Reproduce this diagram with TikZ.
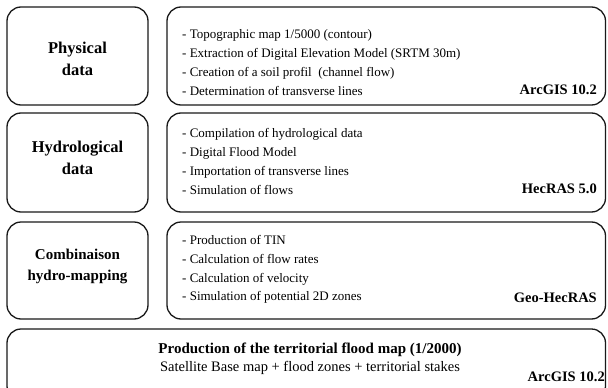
\documentclass[tikz,border=0pt]{standalone}
\usepackage{fontspec}
\setmainfont{Liberation Serif}
\begin{document}
\begin{tikzpicture}[x=1pt,y=-1pt,
  box/.style={draw=black!90,line width=1.3pt,rounded corners=14pt},
  lbl/.style={font=\fontsize{16.5}{22}\selectfont\bfseries,align=center,inner sep=0pt},
  items/.style={font=\fontsize{13}{18.8}\selectfont,align=left,inner sep=0pt,anchor=west},
  tool/.style={font=\fontsize{14.5}{16}\selectfont\bfseries,inner sep=0pt,anchor=east}]
\useasboundingbox (0,0) rectangle (608,388);
\begin{scope}
\clip (0,0) rectangle (608,388);
\draw[box] (7,7) rectangle (148,105);
\draw[box] (167,7) rectangle (605.5,105);
\draw[box] (7,113) rectangle (148,212);
\draw[box] (167,113) rectangle (605.5,212);
\draw[box] (7,222) rectangle (148,319);
\draw[box] (167,222) rectangle (605.5,319);
\draw[box] (7,329) rectangle (605.5,400);
\end{scope}
\node[lbl] (l1) at (77.5,59) {Physical\\data};
\node[lbl] (l2) at (77.5,158) {Hydrological\\data};
\node[lbl,font=\fontsize{15}{21.5}\selectfont\bfseries] (l3) at (77.5,266.5) {Combinaison\\hydro-mapping};
\node[items] (r1) at (182,62.5) {- Topographic map 1/5000 (contour)\\- Extraction of Digital Elevation Model (SRTM 30m)\\- Creation of a soil profil\ \ (channel flow)\\- Determination of transverse lines};
\node[items] (r2) at (182,161.5) {- Compilation of hydrological data\\- Digital Flood Model\\- Importation of transverse lines\\- Simulation of flows};
\node[items] (r3) at (182,269.5) {- Production of TIN\\- Calculation of flow rates\\- Calculation of velocity\\- Simulation of potential 2D\ zones};
\node[tool] (t1) at (597,90) {ArcGIS 10.2};
\node[tool] (t2) at (597,189) {HecRAS 5.0};
\node[tool] (t3) at (597,298) {Geo-HecRAS};
\node[font=\fontsize{15}{16}\selectfont\bfseries,inner sep=0pt] (b1) at (310,350) {Production of the territorial flood map (1/2000)};
\node[font=\fontsize{14.5}{16}\selectfont,inner sep=0pt] (b2) at (310,368) {Satellite Base map + flood zones + territorial stakes};
\node[tool] (t4) at (605,377) {ArcGIS 10.2};
\end{tikzpicture}
\end{document}
